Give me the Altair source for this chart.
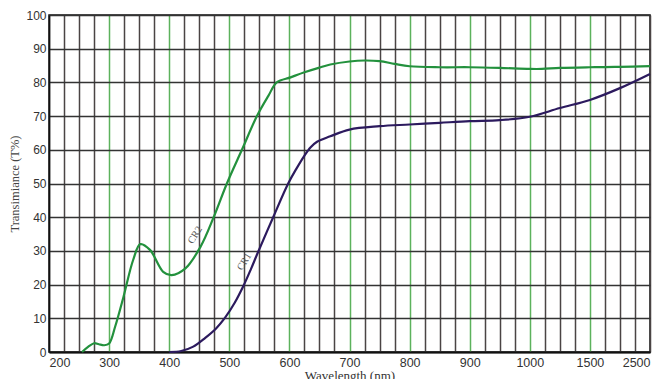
import altair as alt
import pandas as pd

# ---- data ----
wl_cr2 = [255, 265, 275, 283, 292, 300, 310, 324, 340, 352, 368, 390, 404, 427, 452, 474, 496,
          521, 546, 565, 579, 602, 625, 650, 668, 700, 725, 750, 775, 800, 850, 900, 950, 1000,
          1100, 1250, 1500, 2000, 2500]
t_cr2 = [0, 1.5, 2.6, 2.3, 2.0, 2.5, 7.5, 16.4, 27.3, 32, 30.3, 23.8, 22.8, 24.8, 31.2, 40, 50,
         60, 70, 76, 80, 81.5, 83, 84.4, 85.3, 86.2, 86.5, 86.3, 85.5, 84.8, 84.5, 84.5, 84.3, 84,
         84, 84.3, 84.5, 84.6, 84.8]

wl_cr1 = [400, 420, 440, 460, 478, 493, 509, 524, 536, 547, 573, 598, 612, 624, 635, 646, 668, 700,
          750, 800, 850, 900, 950, 1000, 1250, 1500, 2000, 2500]
t_cr1 = [0, 0.3, 1.6, 4.2, 7.0, 10.2, 14.6, 19.8, 24.6, 29.3, 40, 50, 54.5, 58, 60.7, 62.4, 64, 66,
         67, 67.5, 68, 68.5, 68.8, 69.8, 72.4, 74.8, 78.3, 82.5]

x_tick_labels = ["200", "300", "400", "500", "600", "700", "800", "900", "1000", "1500", "2500"]

curve_names = ["CR2", "CR1"]
curve_label_wl = [443, 525]
curve_label_t = [34.7, 26.8]


def tx(w):
    # non-linear wavelength axis: 100 nm per unit up to 1000, then 1000-1500, 1500-2500
    if w <= 1000:
        return (w - 200) / 100.0
    if w <= 1500:
        return 8 + (w - 1000) / 500.0
    return 9 + (w - 1500) / 1000.0


rows = []
for w, t in zip(wl_cr2, t_cr2):
    rows.append({"p": tx(w), "T": t, "curve": "CR2"})
for w, t in zip(wl_cr1, t_cr1):
    rows.append({"p": tx(w), "T": t, "curve": "CR1"})
df = pd.DataFrame(rows)

lab = pd.DataFrame({"p": [tx(w) for w in curve_label_wl], "T": curve_label_t, "name": curve_names})

label_arr = "[" + ",".join("'" + s + "'" for s in x_tick_labels) + "]"

x_scale = alt.Scale(domain=[0, 10], nice=False, zero=False)
y_scale = alt.Scale(domain=[0, 100], nice=False)

NARROW = "Liberation Sans Narrow, Liberation Sans"

x_axis = alt.Axis(
    values=[i * 0.25 for i in range(41)],
    labelExpr="datum.value % 1 === 0 ? " + label_arr + "[datum.value] : ''",
    labelOverlap=False,
    labelFont=NARROW, labelFontSize=12.5, labelColor="#333",
    labelPadding=4, ticks=False, domainColor="#111", domainWidth=2,
    gridColor={"condition": {"test": "datum.value % 1 === 0 && datum.value > 0 && datum.value < 10",
                             "value": "#5db25d"}, "value": "#4a4444"},
    gridWidth=1.5, gridOpacity=1,
    title="Wavelength (nm)", titleFont="Liberation Serif", titleFontSize=13,
    titleFontWeight="normal", titleColor="#333", titlePadding=1,
)
y_axis = alt.Axis(
    values=list(range(0, 101, 10)),
    labelFont=NARROW, labelFontSize=12, labelColor="#333",
    labelPadding=3, ticks=False, domainColor="#111", domainWidth=1.5,
    gridColor="#333", gridWidth=1.5, gridOpacity=1,
    title="Transimiance (T%)", titleFont="Liberation Serif", titleFontSize=12.5,
    titleFontWeight="normal", titleColor="#444", titlePadding=4,
)

lines = alt.Chart(df).mark_line(interpolate="catmull-rom", strokeWidth=2.2).encode(
    x=alt.X("p:Q", scale=x_scale, axis=x_axis),
    y=alt.Y("T:Q", scale=y_scale, axis=y_axis),
    color=alt.Color("curve:N", scale=alt.Scale(domain=["CR2", "CR1"], range=["#23913d", "#2c1a5e"]),
                    legend=None),
    detail="curve:N",
)

texts = alt.Chart(lab).mark_text(angle=302, font="Liberation Serif", fontSize=10, color="#555").encode(
    x=alt.X("p:Q", scale=x_scale, axis=x_axis),
    y=alt.Y("T:Q", scale=y_scale, axis=y_axis),
    text="name:N",
)

chart = (lines + texts).properties(
    width=601, height=337,
    padding={"left": 41, "top": 7, "right": 7, "bottom": 27},
    autosize=alt.AutoSizeParams(type="none"),
    background="white",
).configure_view(stroke="#111", strokeWidth=1.5)

chart.save("out.html", embed_options={"renderer": "svg", "actions": False})
